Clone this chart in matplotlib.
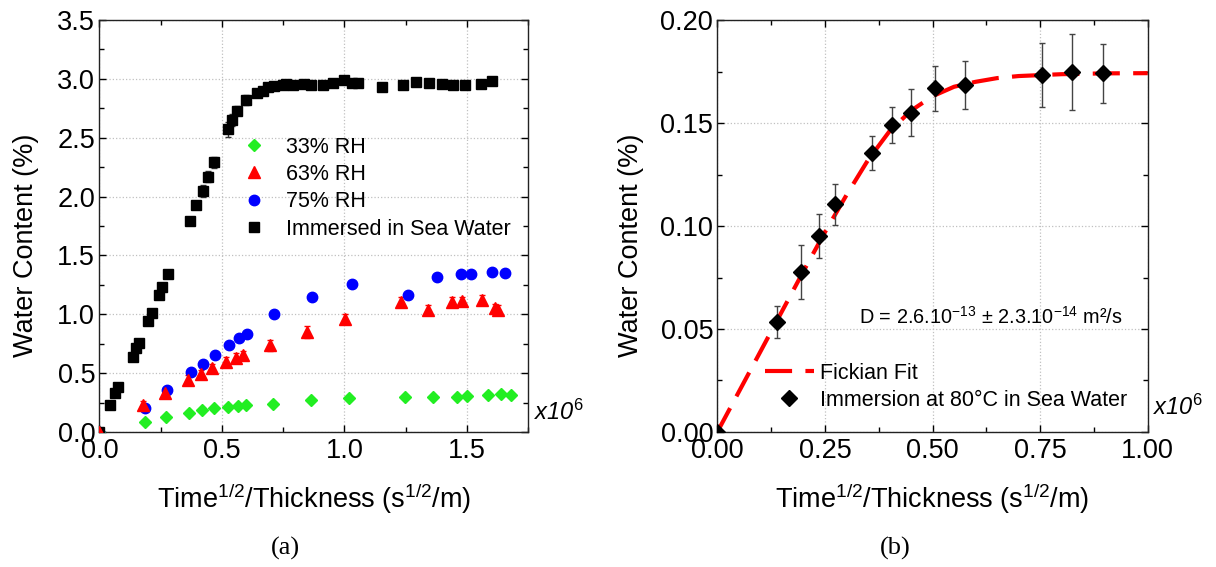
import numpy as np
import matplotlib
matplotlib.use('Agg')
import matplotlib.pyplot as plt
from matplotlib.ticker import MultipleLocator, FormatStrFormatter

plt.rcParams['font.family'] = ['Liberation Sans', 'DejaVu Sans']
plt.rcParams['mathtext.fontset'] = 'custom'
plt.rcParams['mathtext.rm'] = 'Liberation Sans'
plt.rcParams['mathtext.it'] = 'Liberation Sans:italic'

## Data (a): sorption curves, x in units of 1e6 s^1/2/m
x_sea = [0.0, 0.042, 0.064, 0.076, 0.137, 0.148, 0.161, 0.198, 0.215, 0.243, 0.256, 0.279,
         0.371, 0.396, 0.422, 0.444, 0.466, 0.524, 0.543, 0.563, 0.598, 0.643, 0.668, 0.690,
         0.712, 0.748, 0.763, 0.789, 0.836, 0.865, 0.913, 0.955, 0.999, 1.032, 1.057, 1.153,
         1.237, 1.290, 1.345, 1.397, 1.444, 1.491, 1.557, 1.601]
y_sea = [0.0, 0.23, 0.33, 0.38, 0.64, 0.71, 0.76, 0.94, 1.01, 1.16, 1.23, 1.34,
         1.79, 1.93, 2.05, 2.17, 2.29, 2.57, 2.65, 2.73, 2.82, 2.88, 2.90, 2.93,
         2.94, 2.95, 2.96, 2.95, 2.955, 2.95, 2.95, 2.965, 2.99, 2.965, 2.965, 2.93,
         2.95, 2.97, 2.965, 2.955, 2.95, 2.95, 2.96, 2.98]
e_sea = [0.0, 0.01, 0.01, 0.01, 0.02, 0.02, 0.02, 0.02, 0.02, 0.02, 0.02, 0.02,
         0.03, 0.03, 0.05, 0.05, 0.05, 0.06, 0.05, 0.04, 0.04, 0.02, 0.02, 0.02,
         0.02, 0.02, 0.02, 0.02, 0.02, 0.02, 0.02, 0.02, 0.02, 0.02, 0.02, 0.02,
         0.02, 0.02, 0.02, 0.02, 0.02, 0.02, 0.02, 0.02]

x_33 = [0.0, 0.186, 0.272, 0.365, 0.418, 0.469, 0.524, 0.565, 0.597, 0.707, 0.862, 1.017,
        1.246, 1.360, 1.458, 1.500, 1.584, 1.640, 1.680]
y_33 = [0.0, 0.085, 0.13, 0.165, 0.185, 0.20, 0.21, 0.225, 0.227, 0.24, 0.27, 0.29,
        0.30, 0.295, 0.30, 0.305, 0.314, 0.32, 0.314]

x_63 = [0.0, 0.180, 0.268, 0.361, 0.413, 0.461, 0.515, 0.559, 0.588, 0.697, 0.846, 1.004,
        1.231, 1.341, 1.438, 1.480, 1.562, 1.613, 1.626]
y_63 = [0.0, 0.23, 0.33, 0.44, 0.49, 0.54, 0.595, 0.63, 0.65, 0.735, 0.85, 0.96,
        1.105, 1.035, 1.105, 1.11, 1.125, 1.05, 1.04]
e_63 = [0.0, 0.03, 0.04, 0.04, 0.04, 0.04, 0.04, 0.04, 0.04, 0.05, 0.05, 0.04,
        0.04, 0.04, 0.04, 0.04, 0.04, 0.04, 0.04]

x_75 = [0.0, 0.186, 0.274, 0.373, 0.422, 0.472, 0.527, 0.571, 0.601, 0.713, 0.869, 1.031,
        1.259, 1.376, 1.476, 1.517, 1.601, 1.656]
y_75 = [0.0, 0.207, 0.36, 0.51, 0.58, 0.65, 0.74, 0.80, 0.83, 1.00, 1.15, 1.26,
        1.16, 1.32, 1.34, 1.345, 1.36, 1.355]

## Data (b): immersion at 80 C
x_imm = [0.0, 0.139, 0.194, 0.237, 0.273, 0.359, 0.406, 0.450, 0.505, 0.576, 0.754, 0.823, 0.895]
y_imm = [0.0, 0.0534, 0.0777, 0.0951, 0.1106, 0.1355, 0.149, 0.155, 0.1668, 0.1684, 0.1733, 0.1746, 0.1741]
e_imm = [0.0, 0.0077, 0.0133, 0.0107, 0.010, 0.0082, 0.0088, 0.0114, 0.011, 0.0116, 0.0157, 0.0184, 0.0142]

# Fickian fit curve
x_fit = [0.0, 0.05, 0.10, 0.15, 0.20, 0.25, 0.30, 0.35, 0.40, 0.45, 0.50, 0.55, 0.60, 0.65,
         0.70, 0.80, 0.90, 1.00]
y_fit = [0.0, 0.0195, 0.039, 0.0585, 0.078, 0.097, 0.115, 0.132, 0.146, 0.156, 0.163, 0.1676,
         0.170, 0.1718, 0.1728, 0.1737, 0.1741, 0.1742]

## Plot
fs_tick = 19.5
fs_lab = 19.5
fs_leg = 15.5

fig = plt.figure(figsize=(12.16, 5.67), dpi=100)
ax1 = fig.add_axes([0.0817, 0.2381, 0.3528, 0.7266])
ax2 = fig.add_axes([0.5899, 0.2381, 0.3540, 0.7266])

def style(ax):
    ax.tick_params(which='both', direction='in', top=True, right=True, labelsize=fs_tick)
    ax.tick_params(which='major', length=5, width=1)
    ax.tick_params(which='minor', length=3.5, width=1)
    ax.tick_params(axis='x', pad=4)
    ax.tick_params(axis='y', pad=3)
    ax.grid(True, which='major', linestyle=':', color='#c0c0c0', linewidth=0.9)
    ax.set_axisbelow(True)
    for s in ax.spines.values():
        s.set_linewidth(1.0)
        s.set_color('#222222')

# (a)
h_sea = ax1.errorbar(x_sea, y_sea, yerr=e_sea, fmt='s', color='black', ms=7, ecolor='#333333',
                     elinewidth=1, capsize=2.5, zorder=3)
h_33, = ax1.plot(x_33, y_33, 'D', color='#22ee22', ms=6, zorder=3)
h_63 = ax1.errorbar(x_63, y_63, yerr=e_63, fmt='^', color='#ff0000', ms=8, ecolor='#ff0000',
                    elinewidth=1, capsize=2, zorder=3)
h_75, = ax1.plot(x_75, y_75, 'o', color='#0000ff', ms=7.5, zorder=3)
ax1.set_xlim(0, 1.75)
ax1.set_ylim(0, 3.5)
ax1.xaxis.set_major_locator(MultipleLocator(0.5))
ax1.xaxis.set_minor_locator(MultipleLocator(0.25))
ax1.yaxis.set_major_locator(MultipleLocator(0.5))
ax1.yaxis.set_minor_locator(MultipleLocator(0.25))
ax1.xaxis.set_major_formatter(FormatStrFormatter('%.1f'))
ax1.yaxis.set_major_formatter(FormatStrFormatter('%.1f'))
style(ax1)
ax1.set_xlabel('Time$^{1/2}$/Thickness (s$^{1/2}$/m)', fontsize=fs_lab)
ax1.set_ylabel('Water Content (%)', fontsize=fs_lab)
ax1.xaxis.set_label_coords(0.5, -0.12)
ax1.yaxis.set_label_coords(-0.14, 0.454)
ax1.legend([h_33, h_63[0], h_75, h_sea[0]],
           ['33% RH', '63% RH', '75% RH', 'Immersed in Sea Water'],
           loc='upper left', bbox_to_anchor=(0.303, 0.738), frameon=False, fontsize=fs_leg,
           handletextpad=0.75, labelspacing=0.3, handlelength=1.5, borderaxespad=0)
ax1.text(1.012, 0.0485, 'x10$^{6}$', transform=ax1.transAxes, fontsize=17,
         style='italic', ha='left', va='center')

# (b)
h_fit, = ax2.plot(x_fit, y_fit, color='#ff0000', linestyle=(0, (6.5, 3.2)), linewidth=3,
                  zorder=2)
h_imm = ax2.errorbar(x_imm, y_imm, yerr=e_imm, fmt='D', color='black', ms=8.5, ecolor='#444444',
                     elinewidth=1, capsize=2.5, zorder=3)
ax2.set_xlim(0, 1.0)
ax2.set_ylim(0, 0.2)
ax2.xaxis.set_major_locator(MultipleLocator(0.25))
ax2.xaxis.set_minor_locator(MultipleLocator(0.125))
ax2.yaxis.set_major_locator(MultipleLocator(0.05))
ax2.yaxis.set_minor_locator(MultipleLocator(0.025))
ax2.xaxis.set_major_formatter(FormatStrFormatter('%.2f'))
ax2.yaxis.set_major_formatter(FormatStrFormatter('%.2f'))
style(ax2)
ax2.set_xlabel('Time$^{1/2}$/Thickness (s$^{1/2}$/m)', fontsize=fs_lab)
ax2.set_ylabel('Water Content (%)', fontsize=fs_lab)
ax2.xaxis.set_label_coords(0.5, -0.12)
ax2.yaxis.set_label_coords(-0.17, 0.454)
ax2.legend([h_fit, h_imm[0]], ['Fickian Fit', 'Immersion at 80°C in Sea Water'],
           loc='lower left', bbox_to_anchor=(0.09, 0.03), frameon=False, fontsize=fs_leg,
           handletextpad=0.28, labelspacing=0.3, handlelength=2.3, borderaxespad=0)
ax2.text(0.329, 0.279, 'D = 2.6.10$^{-13}$ ± 2.3.10$^{-14}$ m²/s', transform=ax2.transAxes,
         fontsize=14.3, ha='left', va='center')
ax2.text(1.012, 0.06, 'x10$^{6}$', transform=ax2.transAxes, fontsize=17,
         style='italic', ha='left', va='center')

fig.text(285 / 1216, 1 - 548 / 567, '(a)', family='Liberation Serif', fontsize=19,
         ha='center', va='center')
fig.text(895 / 1216, 1 - 548 / 567, '(b)', family='Liberation Serif', fontsize=19,
         ha='center', va='center')

fig.savefig('out.png', dpi=100)
